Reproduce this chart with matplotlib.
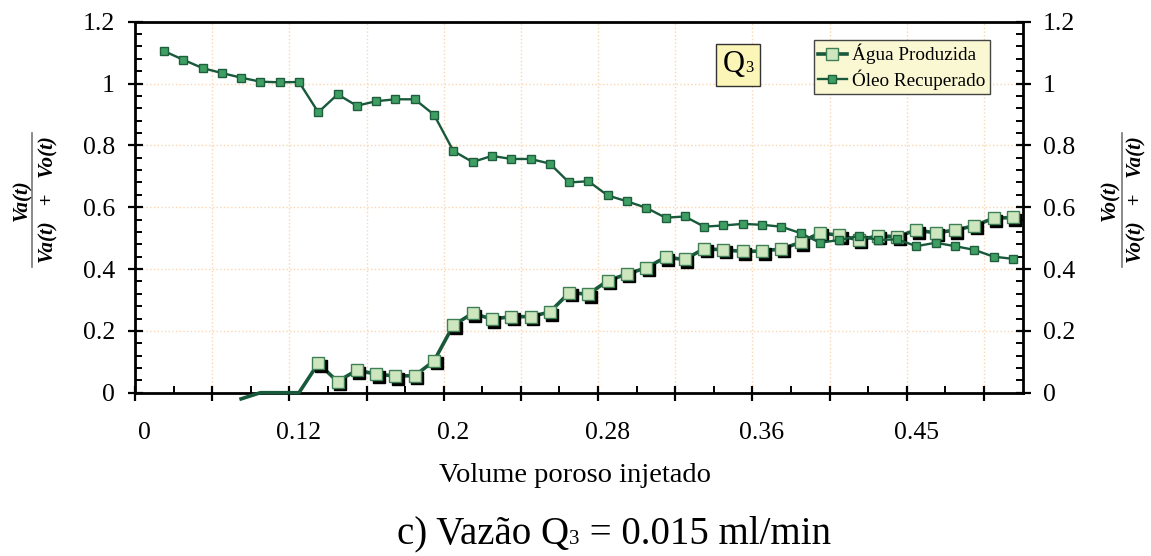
"""
plot.py
=======
Fração de água produzida e de óleo recuperado versus volume poroso injetado
(vazão Q3 = 0.015 ml/min).  Eixo de categorias no estilo Excel.
"""

import matplotlib

matplotlib.use("Agg")

import matplotlib.pyplot as plt
import matplotlib.transforms as mtransforms
import numpy as np
from matplotlib.lines import Line2D
from matplotlib.offsetbox import AnchoredOffsetbox, HPacker, TextArea

# ---------------------------------------------------------------------------
# Data (category index on the x axis, fraction on the y axis)
# ---------------------------------------------------------------------------

OIL_CATEGORIES = np.arange(2, 47)
OIL_FRACTION = [
    1.105, 1.077, 1.050, 1.034, 1.019, 1.006, 1.004, 1.005, 0.907, 0.965,
    0.928, 0.943, 0.949, 0.949, 0.899, 0.782, 0.746, 0.766, 0.756, 0.756,
    0.741, 0.680, 0.684, 0.638, 0.619, 0.598, 0.566, 0.570, 0.537, 0.541,
    0.546, 0.543, 0.537, 0.516, 0.485, 0.494, 0.507, 0.494, 0.496, 0.474,
    0.485, 0.474, 0.462, 0.440, 0.433,
]

WATER_CATEGORIES = np.arange(6, 47)
WATER_FRACTION = [
    -0.02, 0.0, 0.0, 0.0,
    0.095, 0.036, 0.073, 0.060, 0.054, 0.055, 0.103, 0.218, 0.257, 0.238,
    0.246, 0.246, 0.261, 0.323, 0.319, 0.362, 0.384, 0.404, 0.438, 0.431,
    0.466, 0.462, 0.457, 0.458, 0.465, 0.486, 0.517, 0.509, 0.494, 0.507,
    0.505, 0.526, 0.517, 0.526, 0.540, 0.564, 0.567,
]
FIRST_WATER_MARKER = 10  # earlier points are drawn as line only

X_LABEL_CATEGORIES = [1, 9, 17, 25, 33, 41]
X_TICK_LABELS = ["0", "0.12", "0.2", "0.28", "0.36", "0.45"]
Y_TICKS = [0, 0.2, 0.4, 0.6, 0.8, 1.0, 1.2]

# Colours
LINE = "#17593A"
OIL_FILL = "#3F9F63"
OIL_EDGE = "#1E5E3C"
WATER_FILL = "#CDE6BE"
WATER_EDGE = "#3F7F55"
GRID = "#FAD6B2"

SERIF = ["Liberation Serif", "DejaVu Serif"]
W, H = 1151, 556

plt.rcParams["font.family"] = SERIF

fig = plt.figure(figsize=(W / 100, H / 100), dpi=100)
ax = fig.add_axes([135 / W, 1 - 392.7 / H, (1022.5 - 135) / W, (392.7 - 21.7) / H])

# ---------------------------------------------------------------------------
# Series
# ---------------------------------------------------------------------------

water_x = np.asarray(WATER_CATEGORIES)
water_y = np.asarray(WATER_FRACTION)
mask = water_x >= FIRST_WATER_MARKER

ax.plot(water_x, water_y, color=LINE, linewidth=2.6, zorder=3, clip_on=False)

shadow = mtransforms.offset_copy(ax.transData, fig=fig, x=2.5, y=-2.5, units="dots")
ax.plot(water_x[mask], water_y[mask], linestyle="none", marker="s",
        markersize=9, color="black", transform=shadow, zorder=4)
ax.plot(water_x[mask], water_y[mask], linestyle="none", marker="s",
        markersize=9, markerfacecolor=WATER_FILL, markeredgecolor=WATER_EDGE,
        markeredgewidth=1.0, zorder=5)

ax.plot(OIL_CATEGORIES, OIL_FRACTION, color=LINE, linewidth=1.7, marker="s",
        markersize=5.5, markerfacecolor=OIL_FILL, markeredgecolor=OIL_EDGE,
        markeredgewidth=1.0, zorder=6)

# ---------------------------------------------------------------------------
# Axes
# ---------------------------------------------------------------------------

ax.set_xlim(0.5, 46.5)
ax.set_ylim(0, 1.2)
ax.set_xticks(np.arange(0.5, 46, 4))
ax.set_xticks(np.arange(2.5, 46, 4), minor=True)
ax.set_xticklabels([])
ax.set_yticks(Y_TICKS, [f"{v:g}" for v in Y_TICKS])
ax.set_yticks(np.arange(0, 1.2, 0.04), minor=True)

ax.tick_params(which="major", direction="inout", length=10.8, width=1.6,
               labelsize=18.5, right=True, labelright=True, pad=9)
ax.tick_params(which="minor", direction="in", length=4.7, width=1.4, right=True)
for spine in ax.spines.values():
    spine.set_linewidth(2.0)

ax.grid(True, which="major", color=GRID, linestyle=":", linewidth=1.0)
ax.set_axisbelow(True)

sec = ax.secondary_xaxis("bottom")
sec.set_xticks(X_LABEL_CATEGORIES, X_TICK_LABELS)
sec.tick_params(length=0, labelsize=18.5, pad=21)
sec.spines["bottom"].set_visible(False)

fig.text(575 / W, 1 - 476 / H, "Volume poroso injetado", ha="center",
         va="center", fontsize=20.5, family=SERIF)

# fraction labels on both sides
frac = dict(rotation=90, ha="center", va="center", fontsize=15,
            fontweight="bold", fontstyle="italic", family=SERIF)
fig.text(22 / W, 1 - 200 / H, "Va(t)", **frac)
fig.text(48 / W, 1 - 200 / H, "Va(t)   +   Vo(t)", **frac)
fig.add_artist(Line2D([32.3 / W] * 2, [1 - 133 / H, 1 - 267 / H],
                      color="#777777", linewidth=1.2, transform=fig.transFigure))
fig.text(1110 / W, 1 - 200 / H, "Vo(t)", **frac)
fig.text(1136 / W, 1 - 200 / H, "Vo(t)   +   Va(t)", **frac)
fig.add_artist(Line2D([1121.7 / W] * 2, [1 - 133 / H, 1 - 267 / H],
                      color="#777777", linewidth=1.2, transform=fig.transFigure))

# ---------------------------------------------------------------------------
# Legend, Q3 tag and caption
# ---------------------------------------------------------------------------

handles = [
    Line2D([], [], color=LINE, linewidth=2.6, marker="s", markersize=8,
           markerfacecolor=WATER_FILL, markeredgecolor=WATER_EDGE),
    Line2D([], [], color=LINE, linewidth=1.7, marker="s", markersize=5.5,
           markerfacecolor=OIL_FILL, markeredgecolor=OIL_EDGE),
]
leg = ax.legend(handles, ["Água Produzida", "Óleo Recuperado"],
                loc="upper left", bbox_to_anchor=(814 / W, 1 - 40 / H),
                bbox_transform=fig.transFigure, fontsize=13.8, fancybox=False,
                edgecolor="#444444", facecolor="#FAF8D2", framealpha=1,
                borderaxespad=0, borderpad=0.2, handlelength=1.5,
                handletextpad=0.3, labelspacing=0.28,
                prop=dict(family=SERIF, size=13.8))
leg.get_frame().set_linewidth(1.0)

tag = HPacker(children=[TextArea("Q", textprops=dict(fontsize=22, family=SERIF)),
                        TextArea("3", textprops=dict(fontsize=12, family=SERIF))],
              align="baseline", pad=0, sep=0)
tag_box = AnchoredOffsetbox(loc="center", child=tag, pad=0.5, borderpad=0,
                            frameon=True,
                            bbox_to_anchor=(738 / W, 1 - 65 / H),
                            bbox_transform=fig.transFigure)
tag_box.patch.set_facecolor("#FCF5B8")
tag_box.patch.set_edgecolor("#333333")
tag_box.patch.set_linewidth(1.0)
fig.add_artist(tag_box)

big = dict(fontsize=28, family=SERIF)
caption = HPacker(children=[TextArea("c) Vazão Q", textprops=big),
                            TextArea("3", textprops=dict(fontsize=15, family=SERIF)),
                            TextArea(" = 0.015 ml/min", textprops=big)],
                  align="baseline", pad=0, sep=0)
fig.add_artist(AnchoredOffsetbox(loc="center", child=caption, pad=0,
                                 borderpad=0, frameon=False,
                                 bbox_to_anchor=(614 / W, 1 - 535 / H),
                                 bbox_transform=fig.transFigure))

fig.savefig("out.png", dpi=100)
